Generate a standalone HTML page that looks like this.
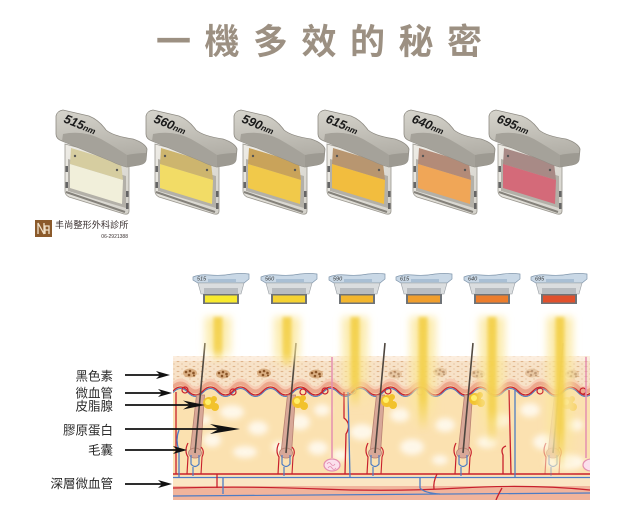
<!DOCTYPE html>
<html><head><meta charset="utf-8">
<style>html,body{margin:0;padding:0;background:#fff}svg{display:block}</style>
</head><body>
<svg xmlns="http://www.w3.org/2000/svg" width="630" height="524" viewBox="0 0 630 524">
<defs>
<linearGradient id="capg" x1="0" y1="0" x2="0.2" y2="1">
<stop offset="0" stop-color="#d6d4cc"/><stop offset="1" stop-color="#aeaba3"/></linearGradient>
<linearGradient id="bodyg" x1="0" y1="0" x2="1" y2="1">
<stop offset="0" stop-color="#eeece6"/><stop offset="1" stop-color="#d4d2cb"/></linearGradient>
<g id="hpbase">
<path d="M12,41 L76,58 L76,108 Q76,112 71,111 L16,94 Q12,92 12,88 Z" fill="url(#bodyg)" stroke="#9a978f" stroke-width=".8"/>
<path d="M13,89 L72,109" stroke="#85827b" stroke-width="2"/>
<path d="M15,56 L73,73 L73,105 L15,88 Z" fill="#b3b0a8"/>
<rect x="12.5" y="63" width="2.5" height="6" fill="#666"/>
<rect x="12.5" y="79" width="2.5" height="6" fill="#666"/>
<rect x="73" y="88" width="2.5" height="6" fill="#666"/>
<rect x="73" y="100" width="2.5" height="6" fill="#666"/>
</g>
<g id="hpcap">
<path d="M3,13 Q4,8 10,7 L36,13 Q46,17 53,27 Q60,33 80,36 Q92,40 94,46 L93,57 Q92,61 86,62 L74,64 Q66,62 58,58 L9,38 Q3,36 3,31 Z" fill="url(#capg)" stroke="#8e8b83" stroke-width=".8"/>
<path d="M10,31 Q30,27 48,36 Q62,44 74,52 L74,64 Q66,62 58,58 L9,38 Z" fill="#a5a29a"/>
<path d="M74,52 Q84,50 93,50 L93,57 Q92,61 86,62 L74,64 Z" fill="#9d9a92"/>
</g>
<g id="shp">
<path d="M1,4 Q8,1 18,2 Q30,3 40,1 Q50,0 57,1 L57,6 L52,10 L6,10 L1,7 Z" fill="#c9d8e6" stroke="#7f95ab" stroke-width=".7"/>
<rect x="16" y="6" width="28" height="3" fill="#a9bfd4"/>
<path d="M6,10 L52,10 L49,21 L9,21 Z" fill="#dadddf" stroke="#9aa0a6" stroke-width=".6"/>
<rect x="12" y="15" width="34" height="6" fill="#b8bcc0"/>
<rect x="11" y="21" width="36" height="10" fill="#6f7377"/>
</g>
<pattern id="dots" width="8" height="5" patternUnits="userSpaceOnUse">
<rect width="8" height="5" fill="#f7e2c8"/>
<ellipse cx="2" cy="1.5" rx="1.5" ry=".6" fill="#dfb48c"/>
<ellipse cx="6" cy="4" rx="1.1" ry=".5" fill="#e6c29e"/>
</pattern>
<g id="mel">
<ellipse rx="7" ry="4.5" fill="#cf9b66" opacity=".7"/>
<circle cx="-4" cy="-1" r="1.3" fill="#8a5528"/><circle cx="0" cy="-2" r="1.3" fill="#8a5528"/>
<circle cx="3.5" cy="0" r="1.3" fill="#8a5528"/><circle cx="-1" cy="2" r="1.3" fill="#8a5528"/>
<circle cx="4" cy="2.5" r="1" fill="#8a5528"/>
</g>
<path id="wave" d="M173,388 Q180.5,380 188,388 T203,388 T218,388 T233,388 T248,388 T263,388 T278,388 T293,388 T308,388 T323,388 T338,388 T353,388 T368,388 T383,388 T398,388 T413,388 T428,388 T443,388 T458,388 T473,388 T488,388 T503,388 T518,388 T533,388 T548,388 T563,388 T578,388 T593,388"/>
<g id="hair">
<polygon points="-8.5,52 -0.5,52 -4.5,110 -15,110" fill="#d8a898" stroke="#b98272" stroke-width=".8"/>
<ellipse cx="-10" cy="110" rx="6.5" ry="5" fill="#d8a898" stroke="#b98272" stroke-width=".8"/>
<line x1="0" y1="0" x2="-10" y2="110" stroke="#4e463f" stroke-width="1.6"/>
<path d="M-14,112 L-14,121 Q-10,126 -6,121 L-6,112" stroke="#4d7cc4" stroke-width="1.2" fill="none"/>
<path d="M-12,124 L-12,133" stroke="#4d7cc4" stroke-width="1.2"/>
<path d="M-17,100 Q-21,108 -17,114 L-18,131" stroke="#c8202c" stroke-width="1.2" fill="none"/>
<path d="M-4,104 Q0,108 -3,114 L-4,131" stroke="#c8202c" stroke-width="1.1" fill="none"/>
</g>
<g id="seb">
<circle cx="0" cy="0" r="6" fill="#f2c22c"/>
<circle cx="6" cy="4" r="4" fill="#f2c22c"/>
<circle cx="5" cy="-4" r="3" fill="#f2c22c"/>
<circle cx="-1" cy="-1" r="3" fill="#fff06a"/>
</g>
<linearGradient id="bcore" x1="0" y1="0" x2="0" y2="1">
<stop offset="0" stop-color="#f3d04a" stop-opacity=".95"/><stop offset=".7" stop-color="#f3d04a" stop-opacity=".85"/><stop offset="1" stop-color="#f3d04a" stop-opacity="0"/></linearGradient>
<linearGradient id="bglow" x1="0" y1="0" x2="0" y2="1">
<stop offset="0" stop-color="#fbe79a" stop-opacity=".8"/><stop offset=".7" stop-color="#fbe79a" stop-opacity=".7"/><stop offset="1" stop-color="#fbe79a" stop-opacity="0"/></linearGradient>
<filter id="b2" x="-100%" y="-20%" width="300%" height="140%"><feGaussianBlur stdDeviation="1.8"/></filter>
<filter id="b5" x="-100%" y="-20%" width="300%" height="140%"><feGaussianBlur stdDeviation="4"/></filter>
<filter id="b3" x="-50%" y="-50%" width="200%" height="200%"><feGaussianBlur stdDeviation="3"/></filter>
<clipPath id="skinclip"><rect x="173" y="340" width="417" height="160"/></clipPath>
</defs>

<rect width="630" height="524" fill="#fff"/>

<!-- Title -->
<text x="156" y="54" font-family="'Liberation Sans','Noto Sans CJK TC',sans-serif" font-size="35" font-weight="700" letter-spacing="13.5" fill="#9c9082">一機多效的秘密</text>

<!-- Photo handpieces -->
<g font-family="'Liberation Sans',sans-serif" font-weight="700" font-style="italic" fill="#1a1a1a">
<g transform="translate(53,103)">
<use href="#hpbase"/>
<path d="M18,45 L68,60 L70,77 L17,61 Z" fill="#d6cda0"/>
<path d="M17,61 L70,77 L69,101 L17,85 Z" fill="#f1efda"/>
<circle cx="22" cy="53" r="1.2" fill="#555"/><circle cx="64" cy="67" r="1.2" fill="#555"/>
<use href="#hpcap"/>
<text transform="translate(10,19) rotate(22)" font-size="12.5">515<tspan font-size="8.5">nm</tspan></text>
</g>
<g transform="translate(143,103)">
<use href="#hpbase"/>
<path d="M18,45 L68,60 L70,77 L17,61 Z" fill="#cdb56e"/>
<path d="M17,61 L70,77 L69,101 L17,85 Z" fill="#f2dc66"/>
<circle cx="22" cy="53" r="1.2" fill="#555"/><circle cx="64" cy="67" r="1.2" fill="#555"/>
<use href="#hpcap"/>
<text transform="translate(10,19) rotate(22)" font-size="12.5">560<tspan font-size="8.5">nm</tspan></text>
</g>
<g transform="translate(231,103)">
<use href="#hpbase"/>
<path d="M18,45 L68,60 L70,77 L17,61 Z" fill="#c9a35a"/>
<path d="M17,61 L70,77 L69,101 L17,85 Z" fill="#f1c94a"/>
<circle cx="22" cy="53" r="1.2" fill="#555"/><circle cx="64" cy="67" r="1.2" fill="#555"/>
<use href="#hpcap"/>
<text transform="translate(10,19) rotate(22)" font-size="12.5">590<tspan font-size="8.5">nm</tspan></text>
</g>
<g transform="translate(315,103)">
<use href="#hpbase"/>
<path d="M18,45 L68,60 L70,77 L17,61 Z" fill="#b89670"/>
<path d="M17,61 L70,77 L69,101 L17,85 Z" fill="#f2bd3e"/>
<circle cx="22" cy="53" r="1.2" fill="#555"/><circle cx="64" cy="67" r="1.2" fill="#555"/>
<use href="#hpcap"/>
<text transform="translate(10,19) rotate(22)" font-size="12.5">615<tspan font-size="8.5">nm</tspan></text>
</g>
<g transform="translate(401,103)">
<use href="#hpbase"/>
<path d="M18,45 L68,60 L70,77 L17,61 Z" fill="#b38b78"/>
<path d="M17,61 L70,77 L69,101 L17,85 Z" fill="#f0a657"/>
<circle cx="22" cy="53" r="1.2" fill="#555"/><circle cx="64" cy="67" r="1.2" fill="#555"/>
<use href="#hpcap"/>
<text transform="translate(10,19) rotate(22)" font-size="12.5">640<tspan font-size="8.5">nm</tspan></text>
</g>
<g transform="translate(486,103)">
<use href="#hpbase"/>
<path d="M18,45 L68,60 L70,77 L17,61 Z" fill="#a88a86"/>
<path d="M17,61 L70,77 L69,101 L17,85 Z" fill="#d46a79"/>
<circle cx="22" cy="53" r="1.2" fill="#555"/><circle cx="64" cy="67" r="1.2" fill="#555"/>
<use href="#hpcap"/>
<text transform="translate(10,19) rotate(22)" font-size="12.5">695<tspan font-size="8.5">nm</tspan></text>
</g>
</g>

<!-- Logo -->
<rect x="35" y="220" width="17" height="17" fill="#8b5a2b"/>
<path d="M38,234 L38,223 L44,234 L44,223 M45,234 L45,226 L49,226 L49,234 M45,230 L49,230" stroke="#f0e0c8" stroke-width="1.3" fill="none"/>
<text x="55" y="228" font-family="'Liberation Sans','Noto Sans CJK TC',sans-serif" font-size="9.2" fill="#3a3030">丰尚整形外科診所</text>
<text x="128" y="238" text-anchor="end" font-family="'Liberation Sans',sans-serif" font-size="5" fill="#3a3030">06-2921388</text>

<!-- Small handpieces -->
<g font-family="'Liberation Sans',sans-serif" font-style="italic" font-size="5.5" fill="#333">
<g transform="translate(192,273)"><use href="#shp"/><rect x="13" y="22.5" width="32" height="7" fill="#f8ea2e"/><text x="5" y="7.5">515</text></g>
<g transform="translate(260,273)"><use href="#shp"/><rect x="13" y="22.5" width="32" height="7" fill="#f5d232"/><text x="5" y="7.5">560</text></g>
<g transform="translate(328,273)"><use href="#shp"/><rect x="13" y="22.5" width="32" height="7" fill="#f3b62e"/><text x="5" y="7.5">590</text></g>
<g transform="translate(395,273)"><use href="#shp"/><rect x="13" y="22.5" width="32" height="7" fill="#f09e2c"/><text x="5" y="7.5">615</text></g>
<g transform="translate(463,273)"><use href="#shp"/><rect x="13" y="22.5" width="32" height="7" fill="#ec7d2c"/><text x="5" y="7.5">640</text></g>
<g transform="translate(530,273)"><use href="#shp"/><rect x="13" y="22.5" width="32" height="7" fill="#e0502c"/><text x="5" y="7.5">695</text></g>
</g>

<!-- Skin -->
<g clip-path="url(#skinclip)">
<rect x="173" y="356" width="417" height="36" fill="url(#dots)"/>
<rect x="173" y="356" width="417" height="5" fill="#fdf3e8" opacity=".7"/>
<use href="#mel" x="190" y="373"/>
<use href="#mel" x="223" y="374"/>
<use href="#mel" x="264" y="373"/>
<use href="#mel" x="316" y="374"/>
<g opacity=".5">
<use href="#mel" x="395" y="374"/>
<use href="#mel" x="440" y="372"/>
<use href="#mel" x="478" y="374"/>
<use href="#mel" x="532" y="373"/>
<use href="#mel" x="572" y="374"/>
</g>
<path d="M173,388 Q180.5,380 188,388 T203,388 T218,388 T233,388 T248,388 T263,388 T278,388 T293,388 T308,388 T323,388 T338,388 T353,388 T368,388 T383,388 T398,388 T413,388 T428,388 T443,388 T458,388 T473,388 T488,388 T503,388 T518,388 T533,388 T548,388 T563,388 T578,388 T593,388 L593,476 L173,476 Z" fill="#fbe1b0"/>
<g fill="#fffaf0" opacity=".9" filter="url(#b3)">
<ellipse cx="232" cy="412" rx="12" ry="7"/><ellipse cx="258" cy="428" rx="10" ry="7"/>
<ellipse cx="212" cy="440" rx="9" ry="7"/><ellipse cx="245" cy="452" rx="12" ry="6"/>
<ellipse cx="300" cy="422" rx="10" ry="8"/><ellipse cx="322" cy="410" rx="8" ry="6"/>
<ellipse cx="318" cy="448" rx="10" ry="7"/><ellipse cx="362" cy="432" rx="12" ry="8"/>
<ellipse cx="340" cy="455" rx="8" ry="6"/><ellipse cx="400" cy="415" rx="10" ry="7"/>
<ellipse cx="412" cy="447" rx="12" ry="8"/><ellipse cx="445" cy="425" rx="10" ry="7"/>
<ellipse cx="440" cy="460" rx="8" ry="5"/><ellipse cx="500" cy="420" rx="9" ry="7"/>
<ellipse cx="487" cy="442" rx="10" ry="6"/><ellipse cx="530" cy="410" rx="10" ry="7"/>
<ellipse cx="545" cy="442" rx="12" ry="8"/><ellipse cx="575" cy="425" rx="8" ry="6"/>
<ellipse cx="205" cy="420" rx="6" ry="5"/><ellipse cx="280" cy="447" rx="8" ry="6"/>
<ellipse cx="565" cy="462" rx="20" ry="8"/>
</g>
<use href="#wave" fill="none" stroke="#f7cdb4" stroke-width="3" transform="translate(0,-4)"/>
<use href="#wave" fill="none" stroke="#eca78c" stroke-width="4" transform="translate(0,-0.5)"/>
<use href="#wave" fill="none" stroke="#4d7cc4" stroke-width="1" transform="translate(0,4.5)"/>
<use href="#wave" fill="none" stroke="#c8202c" stroke-width="1.3" transform="translate(0,3)"/>
<g fill="none" stroke="#c8202c" stroke-width="1.2">
<circle cx="185" cy="390" r="3"/><circle cx="233" cy="392" r="3"/><circle cx="303" cy="392" r="3"/>
<circle cx="325" cy="391" r="3"/><circle cx="388" cy="391" r="3"/><circle cx="540" cy="391" r="3"/>
<circle cx="583" cy="391" r="3"/>
</g>
<g fill="none" stroke="#e0a0a0" stroke-width="1.2">
<circle cx="353" cy="391" r="3"/><circle cx="420" cy="392" r="3"/><circle cx="490" cy="390" r="3"/>
</g>
<!-- bottom layers -->
<rect x="173" y="476" width="417" height="10" fill="#fbe6c4"/>
<rect x="173" y="486" width="417" height="14" fill="#f1b49c"/>
<line x1="173" y1="474" x2="590" y2="474" stroke="#c8202c" stroke-width="1.5"/>
<line x1="173" y1="477.5" x2="590" y2="477.5" stroke="#4d7cc4" stroke-width="1.2"/>
<path d="M173,488 Q250,486 320,489 T460,488 T590,490" stroke="#c8202c" stroke-width="1.2" fill="none"/>
<path d="M173,496 L590,493" stroke="#4d7cc4" stroke-width="1.2"/>
<!-- vertical vessels -->
<g fill="none" stroke-width="1.3">
<path d="M176,392 L176,474" stroke="#c8202c"/>
<path d="M179,430 Q175,440 179,450 L179,477" stroke="#4d7cc4"/>
<path d="M344,392 L344,418 Q352,424 346,434 L345,474" stroke="#c8202c"/>
<path d="M348,392 L350,477" stroke="#4d7cc4"/>
<path d="M509,390 L511,474" stroke="#c8202c"/>
<path d="M515,390 L515,477" stroke="#4d7cc4"/>
<path d="M503,474 L503,455 Q500,448 506,446" stroke="#c8202c"/>
<path d="M217,474 L217,488" stroke="#c8202c"/>
<path d="M223,477 L223,494" stroke="#4d7cc4"/>
<path d="M420,477 L420,488 Q424,493 440,494" stroke="#4d7cc4"/>
<path d="M437,474 Q433,482 434,489" stroke="#c8202c"/>
<path d="M502,488 Q498,495 496,500" stroke="#c8202c"/>
</g>
<!-- sweat glands -->
<path d="M332,357 L332,458" stroke="#e48fb0" stroke-width="1.5"/>
<ellipse cx="332" cy="465" rx="8" ry="6" fill="#fbe0ec" stroke="#e48fb0" stroke-width="1.2"/>
<path d="M327,464 q2,-3 4,0 t4,0 M328,468 q2,-3 4,0 t4,0" stroke="#e48fb0" fill="none" stroke-width=".8"/>
<path d="M586,357 L586,458" stroke="#e48fb0" stroke-width="1.5"/>
<ellipse cx="591" cy="465" rx="8" ry="6" fill="#fbe0ec" stroke="#e48fb0" stroke-width="1.2"/>
<!-- hairs -->
<use href="#hair" transform="translate(205,343)"/>
<use href="#hair" transform="translate(296,343)"/>
<use href="#hair" transform="translate(385,343)"/>
<use href="#hair" transform="translate(473,343)"/>
<use href="#hair" transform="translate(563,343)" opacity=".45"/>
<!-- sebaceous -->
<use href="#seb" x="209" y="403"/>
<use href="#seb" x="298" y="402"/>
<use href="#seb" x="387" y="401"/>
<use href="#seb" x="475" y="399"/>
<use href="#seb" x="567" y="403" opacity=".5"/>
</g>

<!-- Beams -->
<g>
<rect x="205" y="317" width="26" height="45" fill="url(#bglow)" filter="url(#b5)"/>
<rect x="213.5" y="317" width="9" height="45" fill="url(#bcore)" filter="url(#b2)"/>
<rect x="274" y="317" width="26" height="52" fill="url(#bglow)" filter="url(#b5)"/>
<rect x="282.5" y="317" width="9" height="52" fill="url(#bcore)" filter="url(#b2)"/>
<rect x="342" y="317" width="26" height="92" fill="url(#bglow)" filter="url(#b5)"/>
<rect x="350.5" y="317" width="9" height="92" fill="url(#bcore)" filter="url(#b2)"/>
<rect x="410" y="317" width="26" height="115" fill="url(#bglow)" filter="url(#b5)"/>
<rect x="418.5" y="317" width="9" height="115" fill="url(#bcore)" filter="url(#b2)"/>
<rect x="479" y="317" width="26" height="130" fill="url(#bglow)" filter="url(#b5)"/>
<rect x="487.5" y="317" width="9" height="130" fill="url(#bcore)" filter="url(#b2)"/>
<rect x="547" y="317" width="26" height="158" fill="url(#bglow)" filter="url(#b5)"/>
<rect x="555.5" y="317" width="9" height="158" fill="url(#bcore)" filter="url(#b2)"/>
</g>

<!-- Labels -->
<g font-family="'Liberation Sans','Noto Sans CJK TC',sans-serif" font-size="12.5" fill="#2a2a2a" text-anchor="end">
<text x="113" y="380.5">黑色素</text>
<text x="113" y="397.5">微血管</text>
<text x="113" y="410.5">皮脂腺</text>
<text x="113" y="434.5">膠原蛋白</text>
<text x="113" y="454.5">毛囊</text>
<text x="113" y="488">深層微血管</text>
</g>

<!-- Arrows -->
<g stroke="#111" stroke-width="1.8" fill="#111">
<line x1="125" y1="375" x2="160" y2="375"/>
<path d="M170,375 L156,371 L160,375 L156,379 Z" stroke="none"/>
<line x1="125" y1="393" x2="162" y2="393"/>
<path d="M172,393 L158,389 L162,393 L158,397 Z" stroke="none"/>
<line x1="125" y1="405" x2="190" y2="405"/>
<path d="M205,405 L183,400.5 L190,405 L183,409.5 Z" stroke="none"/>
<line x1="125" y1="429" x2="220" y2="429"/>
<path d="M240,429 L210,424 L219,429 L210,434 Z" stroke="none"/>
<line x1="125" y1="450" x2="177" y2="450"/>
<path d="M187,450 L173,446 L177,450 L173,454 Z" stroke="none"/>
<line x1="125" y1="484" x2="162" y2="484"/>
<path d="M172,484 L158,480 L162,484 L158,488 Z" stroke="none"/>
</g>
</svg>
</body></html>
